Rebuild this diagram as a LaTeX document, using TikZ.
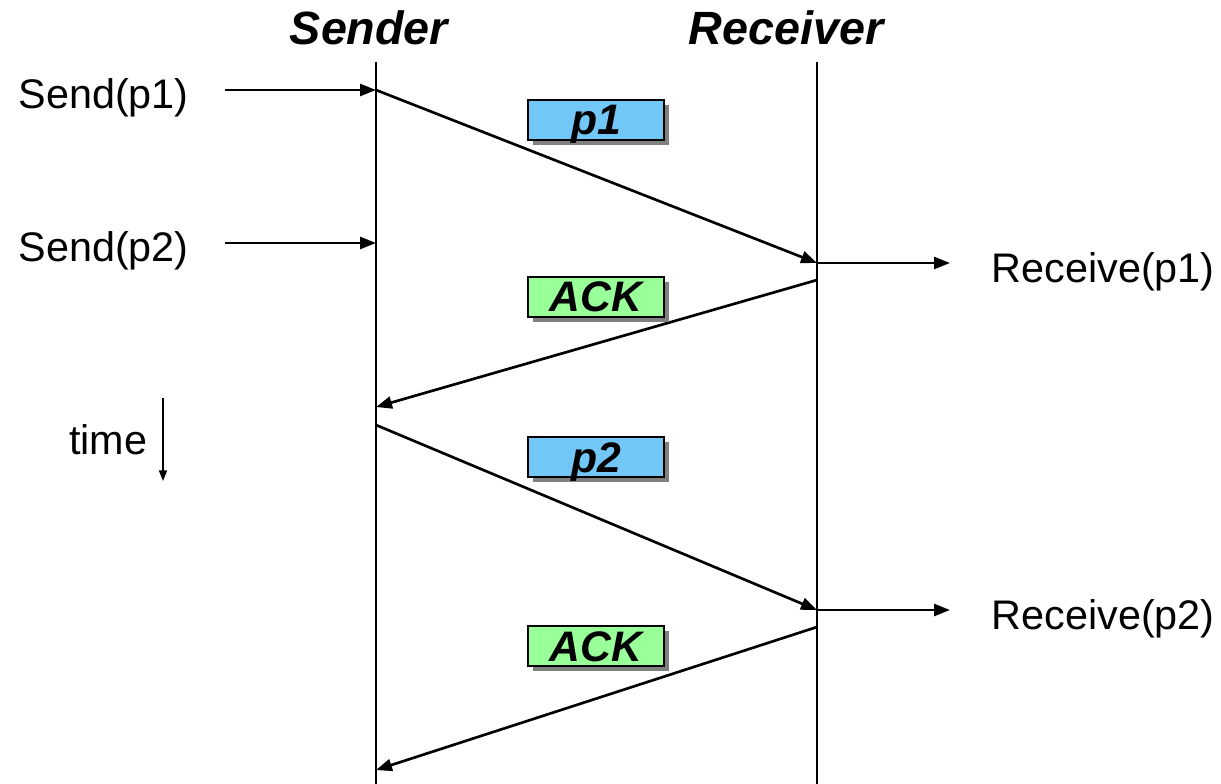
\documentclass[tikz,border=0pt]{standalone}
\usepackage{fontspec}
\setmainfont{Liberation Sans}
\usetikzlibrary{arrows.meta,shadows}
\definecolor{pktblue}{RGB}{115,199,247}
\definecolor{ackgreen}{RGB}{153,255,153}
\definecolor{shadowgray}{RGB}{128,128,128}
\tikzset{
  lifeline/.style={line width=2pt},
  msg/.style={line width=2pt,-{Triangle[length=12pt,width=9pt]}},
  timearrow/.style={line width=1.2pt,-{Triangle[length=8pt,width=6pt]}},
  title/.style={font=\fontsize{35}{40}\selectfont\bfseries\itshape},
  event/.style={font=\fontsize{31}{36}\selectfont},
  pktbox/.style={draw=black,line width=1.8pt,minimum width=102pt,minimum height=30pt,inner sep=0pt,
    text height=22.5pt,text depth=0pt,
    font=\fontsize{32}{36}\selectfont\bfseries\itshape,
    drop shadow={shadow xshift=3.75pt,shadow yshift=-3.75pt,fill=shadowgray,opacity=1}},
  datapkt/.style={pktbox,fill=pktblue},
  ackpkt/.style={pktbox,fill=ackgreen},
}
\begin{document}
\begin{tikzpicture}[x=0.75pt,y=-0.75pt]
\useasboundingbox (0,0) rectangle (1221,784);

% titles
\node[title,anchor=base] (tsend) at (369,45) {Sender};
\node[title,anchor=base] (trecv) at (786,45) {Receiver};

% lifelines
\coordinate (stop) at (376,62);
\coordinate (sbot) at (376,784);
\coordinate (rtop) at (817,62);
\coordinate (rbot) at (817,784);
\draw[lifeline] (stop) -- (sbot);
\draw[lifeline] (rtop) -- (rbot);

% event points on the lifelines
\coordinate (s1) at (376,90);
\coordinate (s2) at (376,243);
\coordinate (s3) at (376,407);
\coordinate (s4) at (376,425);
\coordinate (s5) at (376,770);
\coordinate (r1) at (817,263);
\coordinate (r2) at (817,280);
\coordinate (r3) at (817,610);
\coordinate (r4) at (817,627);

% application calls at the sender
\node[event,anchor=west] (send1) at (14,98) {Send(p1)};
\node[event,anchor=west] (send2) at (14,251) {Send(p2)};
\coordinate (send1s) at (225,90);
\coordinate (send2s) at (225,243);
\draw[msg] (send1s) -- (s1);
\draw[msg] (send2s) -- (s2);

% deliveries at the receiver
\coordinate (recv1e) at (950,263);
\coordinate (recv2e) at (950,610);
\node[event,anchor=west] (recv1) at (987,272) {Receive(p1)};
\node[event,anchor=west] (recv2) at (987,619) {Receive(p2)};
\draw[msg] (r1) -- (recv1e);
\draw[msg] (r3) -- (recv2e);

% messages between the hosts
\draw[msg] (s1) -- (r1);
\draw[msg] (r2) -- (s3);
\draw[msg] (s4) -- (r3);
\draw[msg] (r4) -- (s5);

% packet labels
\node[datapkt] (pk1) at (596,120) {p1};
\node[ackpkt] (ack1) at (596,297) {ACK};
\node[datapkt] (pk2) at (596,457) {p2};
\node[ackpkt] (ack2) at (596,646) {ACK};

% time axis
\node[event,anchor=east] (time) at (152,440) {time};
\coordinate (ttop) at (163,398);
\coordinate (tbot) at (163,481);
\draw[timearrow] (ttop) -- (tbot);
\end{tikzpicture}
\end{document}
